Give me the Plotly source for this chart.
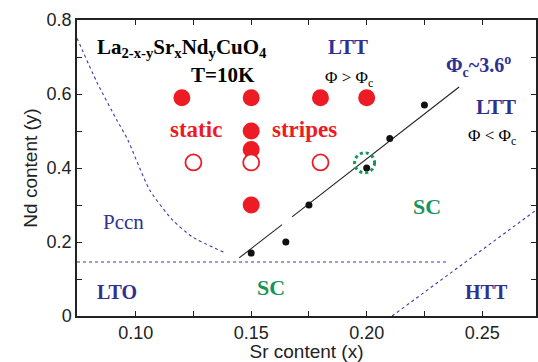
import plotly.graph_objects as go

# ---- data -------------------------------------------------------------
# static stripe order observed (filled) / not observed (open)
stripe_x = [0.12, 0.15, 0.18, 0.20, 0.15, 0.15, 0.15]
stripe_y = [0.59, 0.59, 0.59, 0.59, 0.50, 0.45, 0.30]
nostripe_x = [0.125, 0.15, 0.18]
nostripe_y = [0.415, 0.415, 0.415]

# critical tilt angle points
crit_x = [0.15, 0.165, 0.175, 0.20, 0.21, 0.225]
crit_y = [0.17, 0.20, 0.30, 0.40, 0.48, 0.57]

# Phi_c ~ 3.6 deg boundary (drawn in two pieces)
phic_x = [0.1448, 0.1634, None, 0.1677, 0.240]
phic_y = [0.157, 0.247, None, 0.268, 0.619]

# Pccn boundary
pccn_x = [0.0746, 0.0832, 0.0918, 0.0966, 0.106, 0.116, 0.1246, 0.138]
pccn_y = [0.751, 0.632, 0.530, 0.476, 0.341, 0.259, 0.2135, 0.173]

# LTO / LTT boundary
lto_x = [0.0746, 0.235]
lto_y = [0.146, 0.146]

# HTT boundary
htt_x = [0.211, 0.2733]
htt_y = [0.0, 0.286]

# superconducting sample marked with a ring
sc_ring = (0.1991, 0.414)

xticks = [0.10, 0.15, 0.20, 0.25]
xticklabels = ["0.10", "0.15", "0.20", "0.25"]
yticks = [0, 0.2, 0.4, 0.6, 0.8]
yticklabels = ["0", "0.2", "0.4", "0.6", "0.8"]

RED = "#ed1c24"
BLUE = "#2e3192"
DASHBLUE = "#3b3bab"
GREEN = "#15955a"
SERIF = "Liberation Serif"
SANS = "Liberation Sans"

fig = go.Figure()

dash = "3px,3px"
for xs, ys in [(pccn_x, pccn_y), (lto_x, lto_y), (htt_x, htt_y)]:
    fig.add_trace(go.Scatter(x=xs, y=ys, mode="lines",
                             line=dict(color=DASHBLUE, width=1.1, dash=dash,
                                       shape="spline", smoothing=0.6),
                             hoverinfo="skip", showlegend=False))

fig.add_trace(go.Scatter(x=phic_x, y=phic_y, mode="lines",
                         line=dict(color="#222222", width=1.1),
                         showlegend=False, connectgaps=False))

fig.add_trace(go.Scatter(x=stripe_x, y=stripe_y, mode="markers",
                         marker=dict(color=RED, size=17, line=dict(width=0)),
                         showlegend=False))
fig.add_trace(go.Scatter(x=nostripe_x, y=nostripe_y, mode="markers",
                         marker=dict(color="white", size=16,
                                     line=dict(color=RED, width=1.8)),
                         showlegend=False))
fig.add_trace(go.Scatter(x=crit_x, y=crit_y, mode="markers",
                         marker=dict(color="#111111", size=7),
                         showlegend=False))

# dotted green ring around the superconducting sample
r = 10
fig.add_shape(type="circle", xref="x", yref="y",
              xsizemode="pixel", ysizemode="pixel",
              xanchor=sc_ring[0], yanchor=sc_ring[1],
              x0=-r, x1=r, y0=-r, y1=r,
              line=dict(color=GREEN, width=3, dash="dot"))


def label(x, y, text, color="black", size=20, bold=True, xanchor="center"):
    fig.add_annotation(x=x, y=y, xref="x", yref="y", text=text,
                       showarrow=False, xanchor=xanchor, yanchor="middle",
                       font=dict(family=SERIF, size=size, color=color,
                                 weight="bold" if bold else "normal"))


label(0.0826, 0.725, "La<sub>2-x-y</sub>Sr<sub>x</sub>Nd<sub>y</sub>CuO<sub>4</sub>",
      size=21, xanchor="left")
label(0.1380, 0.651, "T=10K", size=21)
label(0.1918, 0.727, "LTT", color=BLUE, size=21)
label(0.1923, 0.640, "Φ &gt; Φ<sub>c</sub>", size=17, bold=False)
label(0.2483, 0.675, "Φ<sub>c</sub>~3.6<sup>o</sup>", color=BLUE, size=20)
label(0.2561, 0.565, "LTT", color=BLUE, size=21)
label(0.2543, 0.483, "Φ &lt; Φ<sub>c</sub>", size=17, bold=False)
label(0.1259, 0.503, "static", color=RED, size=23)
label(0.1729, 0.503, "stripes", color=RED, size=23)
label(0.0949, 0.254, "Pccn", color=BLUE, size=21, bold=False)
label(0.2259, 0.295, "SC", color=GREEN, size=22)
label(0.1587, 0.076, "SC", color=GREEN, size=22)
label(0.0918, 0.065, "LTO", color=BLUE, size=20)
label(0.2518, 0.065, "HTT", color=BLUE, size=20)

axis_common = dict(showgrid=False, zeroline=False, showline=True,
                   linecolor="#222222", linewidth=1.5, mirror="ticks",
                   ticks="inside", ticklen=5, tickwidth=1, tickcolor="#222222",
                   tickfont=dict(family=SANS, size=18, color="#222222"))

fig.update_xaxes(range=[0.0746, 0.2733], tickvals=xticks, ticktext=xticklabels,
                 minor=dict(dtick=0.025, tick0=0.1, ticks="inside", ticklen=5,
                            tickcolor="#222222"),
                 title=dict(text="Sr content (x)", standoff=2,
                            font=dict(family=SANS, size=19, color="#222222")),
                 **axis_common)
fig.update_yaxes(range=[0, 0.8], tickvals=yticks, ticktext=yticklabels,
                 minor=dict(dtick=0.1, tick0=0, ticks="inside", ticklen=5,
                            tickcolor="#222222"),
                 title=dict(text="Nd content (y)", standoff=4,
                            font=dict(family=SANS, size=19, color="#222222")),
                 **axis_common)

fig.update_layout(width=538, height=362,
                  margin=dict(l=77, r=0, t=20, b=46),
                  plot_bgcolor="white", paper_bgcolor="white")

fig.write_html("out.html")
